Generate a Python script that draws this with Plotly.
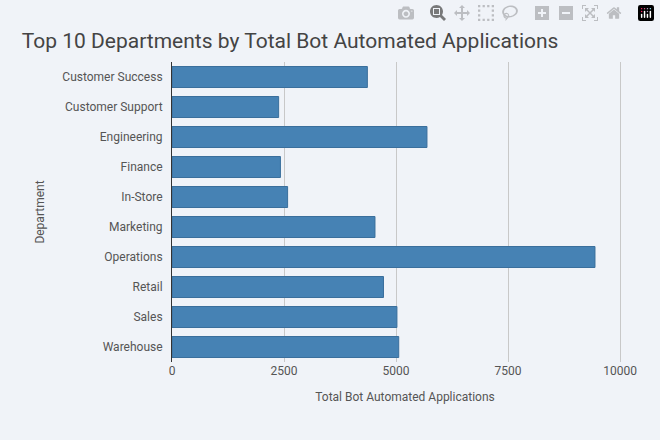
import plotly.graph_objects as go

departments = ["Customer Success", "Customer Support", "Engineering", "Finance", "In-Store",
               "Marketing", "Operations", "Retail", "Sales", "Warehouse"]
applications = [4360, 2380, 5690, 2420, 2580, 4530, 9440, 4720, 5020, 5060]
tick_values = [0, 2500, 5000, 7500, 10000]
tick_labels = ["0", "2500", "5000", "7500", "10000"]

fig = go.Figure(go.Bar(
    x=applications,
    y=departments,
    orientation="h",
    marker=dict(color="#4682b4", line=dict(color="#3a6f9c", width=1)),
    width=0.7,
))

fig.update_layout(
    autosize=True,
    paper_bgcolor="#f0f3f8",
    plot_bgcolor="#f0f3f8",
    font=dict(family="Roboto", color="#555", size=12),
    title=dict(text="Top 10 Departments by Total Bot Automated Applications",
               x=0.033, y=0.925, font=dict(size=21, color="#444")),
    margin=dict(l=172, r=22, t=62, b=78),
    showlegend=False,
)
fig.update_xaxes(
    title=dict(text="Total Bot Automated Applications", font=dict(size=12)),
    range=[0, 10400], tickvals=tick_values, ticktext=tick_labels,
    showgrid=True, gridcolor="#c8c8c8", zeroline=False,
)
fig.update_yaxes(
    title=dict(text="Department", font=dict(size=12)),
    autorange="reversed", showline=True, linecolor="#333", linewidth=1,
    ticks="", ticklabelstandoff=6,
)

fig.write_html("out.html", default_width="100%", default_height="100%",
               config={"responsive": True})
# remove the page margin so the chart fills the window
with open("out.html", encoding="utf-8") as f:
    html = f.read()
html = html.replace("<head>", "<head><style>html,body{margin:0;padding:0;height:100%;overflow:hidden}</style>", 1)
with open("out.html", "w", encoding="utf-8") as f:
    f.write(html)
